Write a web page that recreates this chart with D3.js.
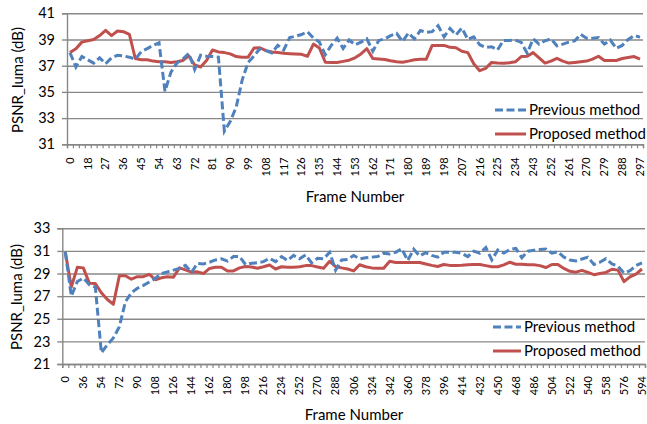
<!DOCTYPE html>
<html><head><meta charset="utf-8">
<script src="https://cdn.jsdelivr.net/npm/d3@7"></script>
<style>
body{margin:0;background:#fff}
svg{display:block}
text{font-family:Lato,"Open Sans",sans-serif;fill:#000}
</style>
</head><body>
<svg id="c" width="647" height="424"></svg>
<script>
// ---------- data ----------
const topFrames = [0, 6, 12].concat(d3.range(18, 300, 3));       // 97 categories, last 297
const bottomFrames = [0, 12, 24].concat(d3.range(36, 600, 6));   // 97 categories, last 594
const seriesNames = ["Previous method", "Proposed method"];
const topYTicks = [31, 33, 35, 37, 39, 41];
const bottomYTicks = [21, 23, 25, 27, 29, 31, 33];

const topPrevious = [38.0,36.9,37.7,37.45,37.2,37.6,37.15,37.6,37.8,37.75,
 37.65,37.5,38.07,38.3,38.55,38.75,35.05,36.5,37.2,37.5,
 37.95,36.7,37.8,37.73,37.7,37.65,32.0,32.75,33.85,35.9,
 37.25,37.75,38.3,38.15,37.98,38.55,38.2,39.15,39.25,39.38,
 39.6,39.1,38.8,37.85,38.55,39.1,38.32,38.96,38.6,38.8,
 39.05,38.1,38.93,39.05,39.3,39.47,38.85,39.5,39.05,39.68,
 39.55,39.6,40.05,39.2,39.85,39.34,39.88,39.0,39.2,38.6,
 38.4,38.45,38.2,38.93,38.93,38.96,38.78,37.95,39.05,38.65,
 38.9,39.05,38.52,38.65,38.8,38.9,39.4,39.1,39.1,39.15,
 38.65,38.96,38.33,38.55,39.0,39.3,39.18];

const topProposed = [38.0,38.3,38.8,38.9,39.0,39.3,39.7,39.3,39.65,39.6,
 39.4,37.55,37.45,37.45,37.35,37.3,37.3,37.25,37.3,37.4,
 37.75,37.05,36.9,37.4,38.2,38.05,38.0,37.9,37.7,37.65,
 37.65,38.35,38.37,38.15,38.05,38.0,37.95,37.92,37.9,37.87,
 37.72,38.65,38.35,37.26,37.25,37.25,37.33,37.42,37.6,37.9,
 38.3,37.55,37.52,37.48,37.38,37.3,37.26,37.35,37.45,37.5,
 37.5,38.55,38.55,38.55,38.4,38.37,38.1,38.0,37.15,36.62,
 36.8,37.25,37.2,37.18,37.22,37.3,37.7,37.72,38.0,37.6,
 37.2,37.35,37.56,37.35,37.2,37.25,37.3,37.35,37.5,37.72,
 37.4,37.4,37.4,37.55,37.62,37.7,37.5];

const bottomPrevious = [30.9,27.0,28.3,28.6,28.0,27.8,22.0,22.7,23.3,24.3,
 26.5,27.3,27.7,27.95,28.25,28.58,29.0,29.15,29.3,29.45,
 29.72,29.1,29.9,29.85,30.0,30.2,30.3,30.1,30.5,30.5,
 29.8,29.9,29.95,30.05,30.35,30.05,30.5,30.15,30.6,30.3,
 30.65,29.95,30.35,30.3,30.88,29.3,30.2,30.25,30.6,30.3,
 30.4,30.45,30.5,30.8,30.72,30.88,31.2,30.15,31.15,30.55,
 30.85,30.6,30.45,30.88,30.88,30.88,30.78,30.5,30.98,30.8,
 31.3,30.2,31.08,30.82,31.12,31.22,30.4,30.98,31.05,31.12,
 31.17,30.8,30.92,30.45,30.2,30.12,30.28,30.45,29.8,30.0,
 30.32,29.85,29.65,29.05,29.25,29.7,29.95];

const bottomProposed = [30.9,27.8,29.55,29.5,28.15,28.12,27.3,26.7,26.28,28.8,
 28.8,28.5,28.72,28.72,28.93,28.45,28.62,28.72,28.68,29.5,
 29.32,29.12,29.15,29.0,29.45,29.55,29.55,29.22,29.23,29.5,
 29.62,29.58,29.47,29.6,29.75,29.4,29.6,29.55,29.56,29.6,
 29.7,29.7,29.58,29.47,30.08,29.62,29.5,29.4,29.23,29.78,
 29.6,29.5,29.47,29.47,30.08,29.98,29.97,29.97,29.97,29.97,
 29.85,29.72,29.62,29.8,29.72,29.72,29.73,29.78,29.8,29.8,
 29.7,29.6,29.6,29.77,30.0,29.82,29.83,29.77,29.77,29.7,
 29.53,29.8,29.8,29.45,29.2,29.12,29.28,29.1,28.9,29.0,
 29.1,29.38,29.3,28.28,28.7,28.95,29.4];

// ---------- drawing ----------
const BLUE = "#4F81BD", RED = "#C0504D", GRID = "#888888";
const svg = d3.select("#c");

function panel(cfg) {
  const g = svg.append("g");
  const n = cfg.frames.length;
  const x = d3.scaleBand().domain(cfg.frames).range([cfg.left, cfg.right]);
  const xc = f => x(f) + x.bandwidth() / 2;
  const xTick = d3.scaleLinear().domain([0, n]).range([cfg.left, cfg.right]);
  const y = d3.scaleLinear().domain(cfg.yDomain).range([cfg.bottom, cfg.top]);
  const w = cfg.right - cfg.left;

  // gridlines
  g.append("g").attr("transform", `translate(${cfg.left},0)`)
    .call(d3.axisLeft(y).tickValues(cfg.yTicks).tickSize(-w).tickFormat(""))
    .call(s => s.select(".domain").remove())
    .call(s => s.selectAll("line").attr("stroke", GRID).attr("stroke-width", 1.4));

  // y axis
  g.append("g").attr("transform", `translate(${cfg.left},0)`)
    .call(d3.axisLeft(y).tickValues(cfg.yTicks).tickSize(5).tickPadding(7))
    .call(s => s.select(".domain").attr("stroke", GRID).attr("stroke-width", 1.4))
    .call(s => s.selectAll("line").attr("stroke", GRID).attr("stroke-width", 1.4))
    .call(s => s.selectAll("text").style("font-size", "14.5px").attr("font-family", null));

  // x axis minor ticks between categories
  g.append("g").attr("transform", `translate(0,${cfg.bottom})`)
    .call(d3.axisBottom(xTick).tickValues(d3.range(0, n + 1)).tickSize(4).tickFormat(""))
    .call(s => s.select(".domain").attr("stroke", GRID).attr("stroke-width", 1.4))
    .call(s => s.selectAll("line").attr("stroke", GRID).attr("stroke-width", 1.2));

  // x tick labels (every 3rd category), rotated
  const labelFrames = cfg.frames.filter((d, i) => i % 3 === 0);
  g.append("g").attr("transform", `translate(0,${cfg.bottom})`)
    .call(d3.axisBottom(x).tickValues(labelFrames).tickSize(0))
    .call(s => s.select(".domain").remove())
    .call(s => s.selectAll("text")
      .attr("font-family", null)
      .style("font-size", "11px")
      .attr("text-anchor", "end")
      .attr("dy", "0.35em")
      .attr("y", 0)
      .attr("transform", `translate(0,${cfg.labelGap}) rotate(-90)`));

  // lines
  const line = vals => d3.line().x((d, i) => xc(cfg.frames[i])).y(d => y(d))(vals);
  g.append("path").attr("d", line(cfg.proposed)).attr("fill", "none")
    .attr("stroke", RED).attr("stroke-width", 3).attr("stroke-linejoin", "round");
  g.append("path").attr("d", line(cfg.previous)).attr("fill", "none")
    .attr("stroke", BLUE).attr("stroke-width", 3).attr("stroke-dasharray", "8,3.5");

  // axis titles
  g.append("text").attr("x", cfg.xTitleX).attr("y", cfg.xTitleY)
    .attr("text-anchor", "middle").style("font-size", "15px").text("Frame Number");
  g.append("text").attr("transform", `translate(${cfg.yTitleX},${cfg.yTitleY}) rotate(-90)`)
    .attr("text-anchor", "middle").attr("dy", "0.35em").style("font-size", "15px").text("PSNR_luma (dB)");

  // legend
  const lg = g.append("g");
  const items = [{name: seriesNames[0], c: BLUE, dash: "8,3.5"}, {name: seriesNames[1], c: RED, dash: null}];
  items.forEach((it, k) => {
    const yy = cfg.legY[k];
    lg.append("line").attr("x1", cfg.legX1).attr("x2", cfg.legX2).attr("y1", yy).attr("y2", yy)
      .attr("stroke", it.c).attr("stroke-width", 3).attr("stroke-dasharray", it.dash);
    lg.append("text").attr("x", cfg.legX2 + 3).attr("y", yy).attr("dy", "0.35em")
      .style("font-size", "15px").text(it.name);
  });
}

panel({
  frames: topFrames, previous: topPrevious, proposed: topProposed,
  left: 67, right: 643, top: 13.3, bottom: 144.3,
  yDomain: [31, 41], yTicks: topYTicks, labelGap: 13,
  xTitleX: 355, xTitleY: 202, yTitleX: 18, yTitleY: 80,
  legX1: 495, legX2: 526, legY: [110, 134]
});
panel({
  frames: bottomFrames, previous: bottomPrevious, proposed: bottomProposed,
  left: 62.3, right: 645, top: 228.3, bottom: 364,
  yDomain: [21, 33], yTicks: bottomYTicks, labelGap: 12,
  xTitleX: 354, xTitleY: 420, yTitleX: 16.5, yTitleY: 297,
  legX1: 493, legX2: 521, legY: [327, 351]
});
</script>
</body></html>
